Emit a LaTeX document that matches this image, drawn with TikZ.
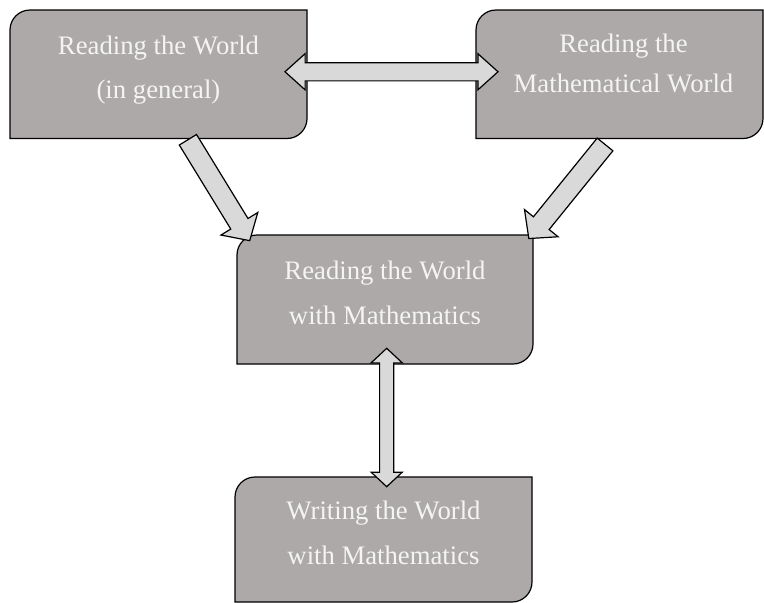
\documentclass[tikz,border=0pt]{standalone}
\usepackage{fontspec}
\setmainfont{Liberation Serif}
\usetikzlibrary{shapes.arrows, calc, backgrounds}

\definecolor{boxgray}{RGB}{173,169,168}
\definecolor{arrowgray}{RGB}{217,217,217}
\definecolor{textwhite}{RGB}{244,244,244}

% block arrow from one point to another
\newcommand\blockarrow[3]{%
  \path let \p1=(#2), \p2=(#3), \n1={veclen(\x2-\x1,\y2-\y1)} in
    (\p1) -- node[#1, sloped, allow upside down, minimum height=\n1] {} (\p2);}

\begin{document}
\begin{tikzpicture}[
    x=1pt, y=-1pt,
    box/.style={inner sep=0pt, outer sep=0pt, align=center, text=textwhite,
      font=\fontsize{26.7}{44.5}\selectfont, text depth=14pt},
    boxline/.style={draw=black, line width=1.2pt, fill=boxgray},
    fatarrow/.style={single arrow, draw=black, line width=1.2pt, fill=arrowgray,
      inner xsep=0pt, inner ysep=9.5pt, outer sep=0pt,
      single arrow head extend=11.5pt, single arrow tip angle=95},
    twoway/.style={double arrow, draw=black, line width=1.2pt, fill=arrowgray,
      inner xsep=0pt, outer sep=0pt}
]
    \useasboundingbox (0,0) rectangle (764,603);

    % Boxes
    \node[box, minimum width=297pt, minimum height=128.5pt] (rw) at (158.5,74.25)
        {Reading the World\\(in general)};
    \node[box, minimum width=287pt, minimum height=128.5pt, text depth=22pt,
        font=\fontsize{26.7}{40}\selectfont] (rmw) at (619.5,74.25)
        {\hspace*{8pt}Reading the\\\hspace*{8pt}Mathematical World};
    \node[box, minimum width=296pt, minimum height=129pt] (rwm) at (385,299.5)
        {Reading the World\\with Mathematics};
    \node[box, minimum width=297pt, minimum height=125pt] (wwm) at (383.5,539.5)
        {Writing the World\\with Mathematics};

    % Box outlines, round at top left and bottom right
    \begin{scope}[on background layer]
    \foreach \b in {rw, rmw, rwm, wwm}
        \draw[boxline] ([xshift=20pt]\b.north west) -- (\b.north east)
            -- ([yshift=20pt]\b.south east) arc[start angle=0, end angle=-90, radius=20pt]
            -- (\b.south west) -- ([yshift=-20pt]\b.north west)
            arc[start angle=180, end angle=90, radius=20pt] -- cycle;
    \end{scope}

    % Arrows
    \coordinate (lt) at ($(rw.south)+(27,-2.7)$);
    \coordinate (lh) at ($(rwm.north west)+(10.3,1.7)$);
    \coordinate (rt) at ($(rmw.south)+(-11.5,2.3)$);
    \coordinate (rh) at ($(rwm.north east)+(-1.3,0)$);
    \blockarrow{fatarrow}{lt}{lh}
    \blockarrow{fatarrow}{rt}{rh}
    \blockarrow{twoway, inner ysep=8.5pt, double arrow head extend=9pt,
        double arrow tip angle=84}{$(rw.east)+(-22,-2.5)$}{$(rmw.west)+(22,-2.5)$}
    \blockarrow{twoway, inner ysep=6.5pt, double arrow head extend=8.5pt,
        double arrow tip angle=94}{$(rwm.south)+(1.7,-15.7)$}{$(wwm.north)+(3.2,9.7)$}

\end{tikzpicture}
\end{document}
